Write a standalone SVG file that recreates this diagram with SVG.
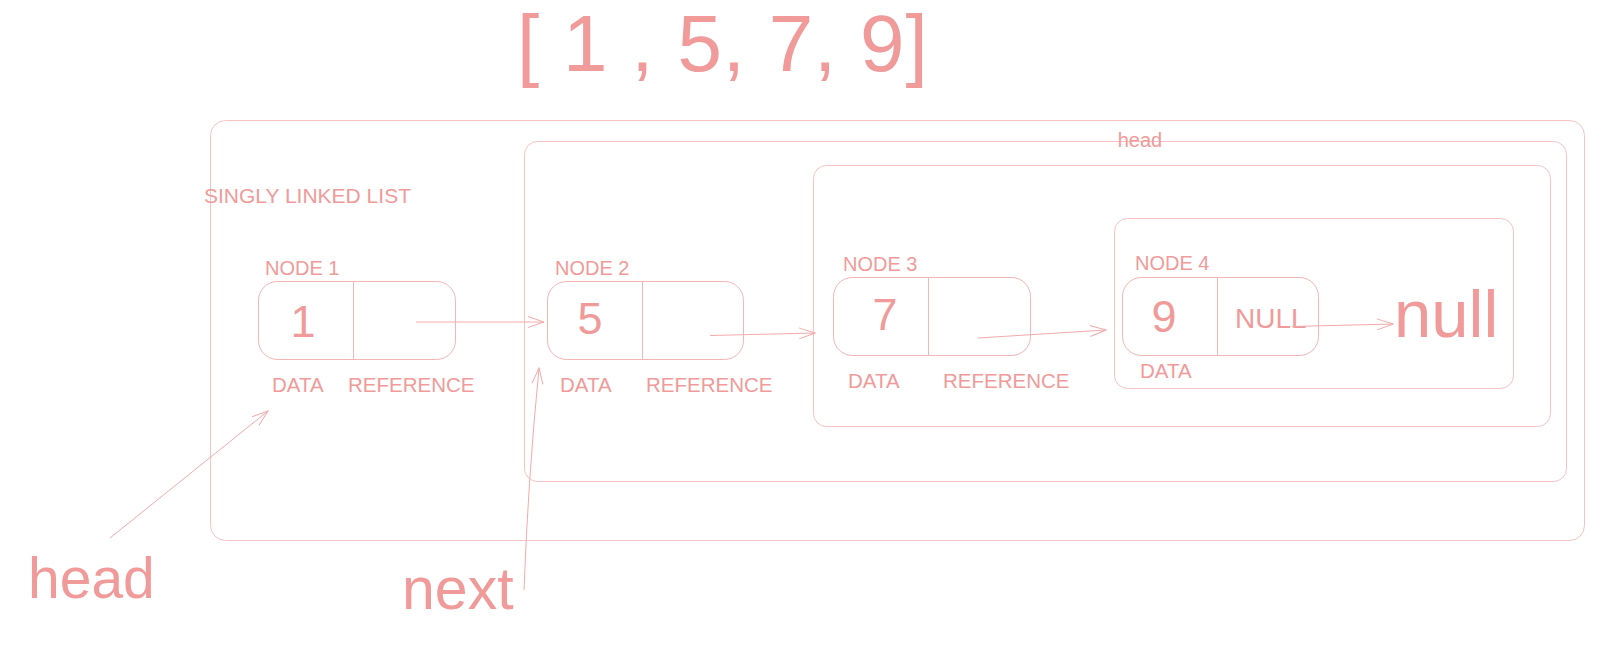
<svg xmlns="http://www.w3.org/2000/svg" width="1618" height="646" viewBox="0 0 1618 646">
<defs>
<style>
text{font-family:"Liberation Sans",Arial,sans-serif;fill:#f09a99}
.frame{fill:none;stroke:#f6c2c2;stroke-width:1}
.cell{fill:none;stroke:#f4b5b5;stroke-width:1}
.conn{fill:none;stroke:#f3aaaa;stroke-width:1}
.lbl{font-size:20px}
.small{font-size:20.5px}
.val{font-size:45px}
</style>
<marker id="arr" markerWidth="18" markerHeight="14" refX="17" refY="7" orient="auto" markerUnits="userSpaceOnUse">
<path d="M1,1.5 L17,7 L1,12.5" fill="none" stroke="#f3aaaa" stroke-width="1"/>
</marker>
</defs>
<rect width="1618" height="646" fill="#ffffff"/>

<text x="517" y="71" font-size="80" letter-spacing="0.8">[ 1 , 5, 7, 9]</text>

<g id="frames">
<rect class="frame" x="210.5" y="120.5" width="1374" height="420" rx="15"/>
<rect class="frame" x="524.5" y="141.5" width="1042" height="340" rx="13"/>
<rect class="frame" x="813.5" y="165.5" width="737" height="261" rx="13"/>
<rect class="frame" x="1114.5" y="218.5" width="399" height="170" rx="13"/>
</g>

<text x="1140" y="147" font-size="20" text-anchor="middle">head</text>
<text x="204" y="203" font-size="21">SINGLY LINKED LIST</text>

<g id="node1">
<text x="265" y="275" class="lbl">NODE 1</text>
<rect class="cell" x="258.5" y="281.5" width="197" height="78" rx="19"/>
<line class="cell" x1="353.5" y1="282" x2="353.5" y2="359"/>
<text x="303" y="337" class="val" text-anchor="middle">1</text>
<text x="272" y="392" class="small">DATA</text>
<text x="348" y="392" class="small">REFERENCE</text>
</g>

<g id="node2">
<text x="555" y="275" class="lbl">NODE 2</text>
<rect class="cell" x="547.5" y="281.5" width="196" height="78" rx="19"/>
<line class="cell" x1="642.5" y1="282" x2="642.5" y2="359"/>
<text x="590" y="334" class="val" text-anchor="middle">5</text>
<text x="560" y="392" class="small">DATA</text>
<text x="646" y="392" class="small">REFERENCE</text>
</g>

<g id="node3">
<text x="843" y="271" class="lbl">NODE 3</text>
<rect class="cell" x="833.5" y="277.5" width="197" height="78" rx="19"/>
<line class="cell" x1="928.5" y1="278" x2="928.5" y2="355"/>
<text x="885" y="330" class="val" text-anchor="middle">7</text>
<text x="848" y="388" class="small">DATA</text>
<text x="943" y="388" class="small">REFERENCE</text>
</g>

<g id="node4">
<text x="1135" y="270" class="lbl">NODE 4</text>
<rect class="cell" x="1122.5" y="277.5" width="196" height="78" rx="19"/>
<line class="cell" x1="1217.5" y1="278" x2="1217.5" y2="355"/>
<text x="1164" y="332" class="val" text-anchor="middle">9</text>
<text x="1235" y="328" font-size="28">NULL</text>
<text x="1140" y="378" class="small">DATA</text>
</g>

<g id="null">
<text x="1394" y="337" font-size="67">null</text>
</g>

<g id="head">
<text x="28" y="598" font-size="57">head</text>
</g>

<g id="next">
<text x="402" y="609" font-size="59">next</text>
</g>

<g id="connectors">
<path class="conn" d="M416,322 L544,322" marker-end="url(#arr)"/>
<path class="conn" d="M710,335.5 L815,333" marker-end="url(#arr)"/>
<path class="conn" d="M978,338 L1106,330" marker-end="url(#arr)"/>
<path class="conn" d="M1292,326.5 L1393,324" marker-end="url(#arr)"/>
<path class="conn" d="M110,538 L268,411" marker-end="url(#arr)"/>
<path class="conn" d="M524,590 Q528,480 539,368" marker-end="url(#arr)"/>
</g>
</svg>
